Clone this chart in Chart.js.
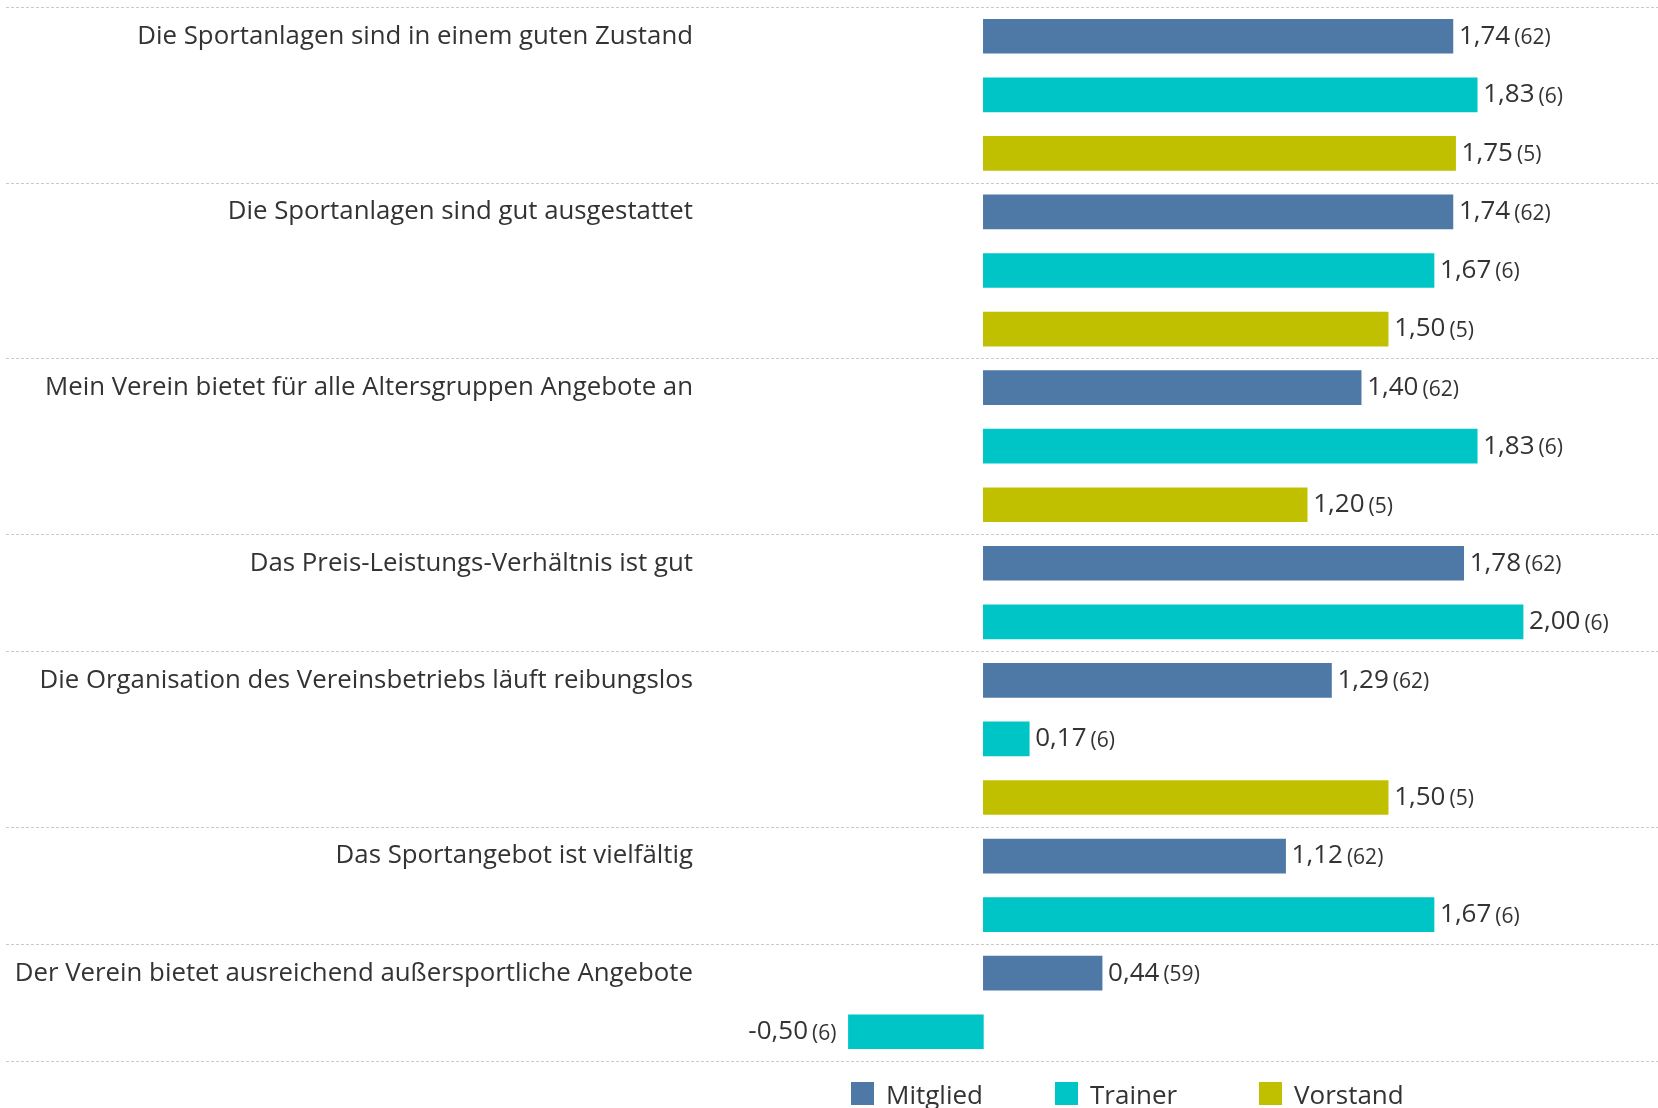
<!DOCTYPE html>
<html lang="de">
<head>
<meta charset="utf-8">
<title>Zufriedenheit Sportverein</title>
<script src="https://cdn.jsdelivr.net/npm/chart.js@4"></script>
<style>
    body { margin: 0; background: #fff; font-family: "Open Sans", sans-serif; }
    #wrap { position: relative; width: 1658px; height: 1108px; }
    #legend { position: absolute; left: 851px; top: 1082px; display: flex; }
    .item { width: 204px; height: 23px; display: flex; align-items: center; font-size: 26px; color: #333; }
    .swatch { width: 23px; height: 23px; margin-right: 12px; flex: none; }
</style>
</head>
<body>
<div id="wrap">
    <canvas id="chart" width="1658" height="1108"></canvas>
    <div id="legend"></div>
</div>
<script>
const statements = [
    'Die Sportanlagen sind in einem guten Zustand',
    'Die Sportanlagen sind gut ausgestattet',
    'Mein Verein bietet für alle Altersgruppen Angebote an',
    'Das Preis-Leistungs-Verhältnis ist gut',
    'Die Organisation des Vereinsbetriebs läuft reibungslos',
    'Das Sportangebot ist vielfältig',
    'Der Verein bietet ausreichend außersportliche Angebote'
];
const groups = ['Mitglied', 'Trainer', 'Vorstand'];
const groupColors = ['#4e79a7', '#00c5c6', '#c0c000'];

// mean score per statement, null = no answers from that group
const mitglied = [1.74, 1.74, 1.40, 1.78, 1.29, 1.12, 0.44];
const trainer = [1.83, 1.67, 1.83, 2.00, 0.17, 1.67, -0.50];
const vorstand = [1.75, 1.50, 1.20, null, 1.50, null, null];

// number of answers (n)
const mitgliedN = [62, 62, 62, 62, 62, 62, 59];
const trainerN = [6, 6, 6, 6, 6, 6, 6];
const vorstandN = [5, 5, 5, null, 5, null, null];

const xMin = -1.05;
const xMax = 2.5;

document.addEventListener('DOMContentLoaded', () => {
    const values = [mitglied, trainer, vorstand];
    const counts = [mitgliedN, trainerN, vorstandN];

    // one row per answered (statement, group) pair
    const rows = [];
    const groupEnds = [];
    statements.forEach((s, si) => {
        let first = true;
        values.forEach((series, gi) => {
            if (series[si] === null) return;
            rows.push({ label: first ? s : '', group: gi, value: series[si], n: counts[gi][si] });
            first = false;
        });
        groupEnds.push(rows.length);
    });

    const datasets = groups.map((g, gi) => ({
        label: g,
        data: rows.map(r => r.group === gi ? r.value : null),
        counts: rows.map(r => r.group === gi ? r.n : null),
        backgroundColor: groupColors[gi],
        barThickness: 34
    }));

    const fmt = v => v.toFixed(2).replace('.', ',');

    const dividers = {
        id: 'dividers',
        beforeDatasetsDraw(chart) {
            const ctx = chart.ctx;
            const y = chart.scales.y;
            const half = (y.getPixelForValue(1) - y.getPixelForValue(0)) / 2;
            ctx.save();
            ctx.strokeStyle = '#c9c9c9';
            ctx.lineWidth = 1;
            ctx.setLineDash([3, 2]);
            [0, ...groupEnds].forEach(end => {
                const py = Math.round(y.getPixelForValue(end) - half) + 0.5;
                ctx.beginPath();
                ctx.moveTo(6, py);
                ctx.lineTo(chart.width, py);
                ctx.stroke();
            });
            ctx.restore();
        }
    };

    const bigFont = '26px "Open Sans"';
    const smallFont = '21px "Open Sans"';

    const valueLabels = {
        id: 'valueLabels',
        afterDatasetsDraw(chart) {
            const ctx = chart.ctx;
            ctx.save();
            ctx.fillStyle = '#333';
            ctx.textBaseline = 'middle';
            ctx.textAlign = 'left';
            chart.data.datasets.forEach((ds, di) => {
                chart.getDatasetMeta(di).data.forEach((bar, i) => {
                    const v = ds.data[i];
                    if (v === null) return;
                    const big = fmt(v);
                    const small = '(' + ds.counts[i] + ')';
                    ctx.font = bigFont;
                    const wBig = ctx.measureText(big).width;
                    ctx.font = smallFont;
                    const wSmall = ctx.measureText(small).width;
                    const start = v >= 0 ? bar.x + 6 : bar.x - 12 - wSmall - 4 - wBig;
                    ctx.font = bigFont;
                    ctx.fillText(big, start, bar.y);
                    ctx.font = smallFont;
                    ctx.fillText(small, start + wBig + 4, bar.y + 2);
                });
            });
            ctx.restore();
        }
    };

    new Chart(document.getElementById('chart'), {
        type: 'bar',
        data: { labels: rows.map(r => r.label), datasets },
        options: {
            indexAxis: 'y',
            responsive: false,
            animation: false,
            layout: { padding: { top: 7, bottom: 47, left: 0, right: 0 } },
            datasets: { bar: { grouped: false } },
            scales: {
                x: { display: false, min: xMin, max: xMax },
                y: {
                    grid: { display: false, drawTicks: false },
                    border: { display: false },
                    afterFit: (scale) => {
                        scale.width = 700;
                        scale.paddingTop = 0;
                        scale.paddingBottom = 0;
                    },
                    ticks: {
                        autoSkip: false,
                        padding: 7,
                        color: '#333',
                        font: { family: 'Open Sans', size: 25.8 }
                    }
                }
            },
            plugins: {
                legend: { display: false },
                tooltip: { enabled: false }
            }
        },
        plugins: [dividers, valueLabels]
    });

    const legend = document.getElementById('legend');
    groups.forEach((g, gi) => {
        legend.innerHTML += `<div class="item"><span class="swatch" style="background:${groupColors[gi]}"></span>${g}</div>`;
    });
});
</script>
</body>
</html>
